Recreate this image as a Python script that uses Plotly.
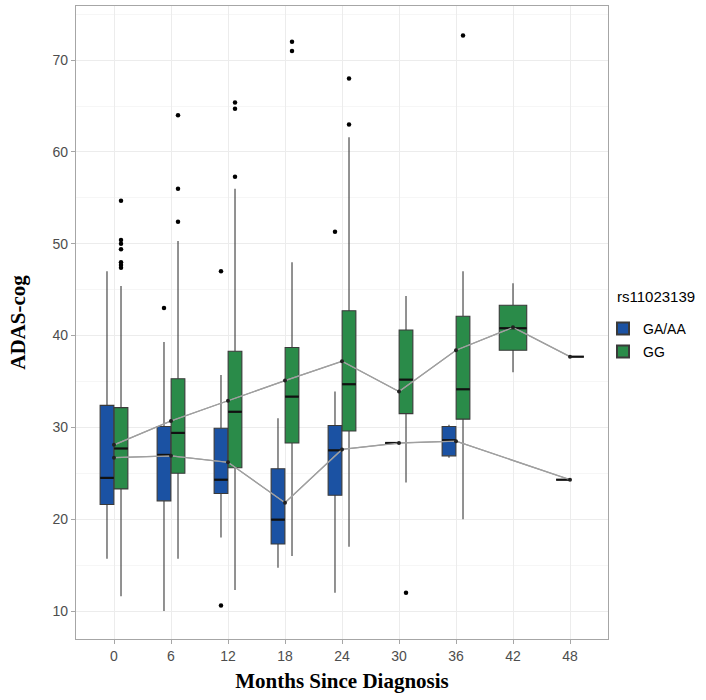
import plotly.graph_objects as go

# ---- data ----
months = [0, 6, 12, 18, 24, 30, 36, 42, 48]
month_labels = ["0", "6", "12", "18", "24", "30", "36", "42", "48"]
groups = ["GA/AA", "GG"]
colors = {"GA/AA": "#1b52a3", "GG": "#2a8b49"}

# box statistics per genotype, None = no data at that month
ga_q1 = [21.6, 22.0, 22.8, 17.3, 22.6, 28.3, 26.9, None, 24.3]
ga_med = [24.5, 27.0, 24.3, 19.95, 27.5, 28.3, 28.6, None, 24.3]
ga_q3 = [32.4, 30.1, 29.9, 25.5, 30.2, 28.3, 30.1, None, 24.3]
ga_lo = [15.7, 10.0, 18.0, 14.7, 12.0, 28.3, 26.7, None, 24.3]
ga_hi = [47.0, 39.3, 35.7, 31.0, 33.9, 28.3, 30.3, None, 24.3]
ga_mean = [26.7, 26.9, 26.2, 21.8, 27.6, 28.3, 28.5, None, 24.3]
ga_out = [[], [43.0], [10.6, 47.0], [], [51.3], [], [], [], []]

gg_q1 = [23.3, 25.0, 25.6, 28.3, 29.6, 31.5, 30.9, 38.4, 37.7]
gg_med = [27.7, 29.4, 31.7, 33.35, 34.7, 35.2, 34.15, 40.8, 37.7]
gg_q3 = [32.15, 35.3, 38.3, 38.7, 42.7, 40.6, 42.1, 43.3, 37.7]
gg_lo = [11.6, 15.7, 12.3, 16.0, 17.0, 24.0, 20.0, 36.0, 37.7]
gg_hi = [45.4, 50.3, 56.0, 48.0, 61.6, 44.3, 47.0, 45.7, 37.7]
gg_mean = [28.1, 30.7, 32.9, 35.1, 37.2, 33.9, 38.4, 40.9, 37.7]
gg_out = [[54.7, 50.4, 50.0, 49.4, 48.0, 47.7, 47.4], [64.0, 56.0, 52.4],
          [65.4, 64.7, 57.3], [72.0, 71.0], [68.0, 63.0], [12.0], [72.7], [], []]

stats = {
    "GA/AA": dict(q1=ga_q1, med=ga_med, q3=ga_q3, lo=ga_lo, hi=ga_hi, mean=ga_mean, out=ga_out),
    "GG": dict(q1=gg_q1, med=gg_med, q3=gg_q3, lo=gg_lo, hi=gg_hi, mean=gg_mean, out=gg_out),
}

DODGE = 2.95  # total dodge width in months (ggplot-like)

fig = go.Figure()

# mean lines (drawn first, under boxes)
for g in groups:
    s = stats[g]
    xs = [m for m, v in zip(months, s["mean"]) if v is not None]
    ys = [v for v in s["mean"] if v is not None]
    fig.add_trace(go.Scatter(x=xs, y=ys, mode="lines",
                             line=dict(color="#9c9c9c", width=1.3),
                             showlegend=False, hoverinfo="skip"))

shown = set()
med_x, med_y = [], []
for i, m in enumerate(months):
    present = [g for g in groups if stats[g]["q1"][i] is not None]
    n = len(present)
    w = DODGE / n
    for j, g in enumerate(present):
        s = stats[g]
        xpos = m - DODGE / 2 + (j + 0.5) * w
        fig.add_trace(go.Box(
            x=[xpos], q1=[s["q1"][i]], median=[s["med"][i]], q3=[s["q3"][i]],
            lowerfence=[s["lo"][i]], upperfence=[s["hi"][i]],
            width=w * 0.98, name=g, legendgroup=g, showlegend=g not in shown,
            fillcolor=colors[g], line=dict(color="#3a3a3a", width=1.1),
            whiskerwidth=0, boxpoints=False))
        shown.add(g)
        med_x += [xpos - w * 0.49, xpos + w * 0.49, None]
        med_y += [s["med"][i], s["med"][i], None]
        if s["out"][i]:
            fig.add_trace(go.Scatter(
                x=[xpos] * len(s["out"][i]), y=s["out"][i], mode="markers",
                marker=dict(color="black", size=4.5), showlegend=False,
                hoverinfo="skip"))

# thicker median bars
fig.add_trace(go.Scatter(x=med_x, y=med_y, mode="lines",
                         line=dict(color="#111111", width=2.2),
                         showlegend=False, hoverinfo="skip"))

# mean lines + points on top
for g in groups:
    s = stats[g]
    xs = [m for m, v in zip(months, s["mean"]) if v is not None]
    ys = [v for v in s["mean"] if v is not None]
    fig.add_trace(go.Scatter(x=xs, y=ys, mode="lines+markers",
                             line=dict(color="#a0a0a0", width=1.2),
                             marker=dict(color="#222222", size=4),
                             showlegend=False, hoverinfo="skip"))

tick_font = dict(family="Liberation Sans, Arial, sans-serif", size=14, color="#4d4d4d")
title_font = dict(family="Liberation Serif, Times New Roman, serif", size=21, color="black")

fig.update_layout(
    width=706, height=700,
    margin=dict(l=76, r=98, t=6, b=61),
    paper_bgcolor="white", plot_bgcolor="white",
    boxmode="overlay",
    legend=dict(x=0.9906, xanchor="left", y=0.5153, yanchor="top",
                bgcolor="rgba(0,0,0,0)",
                font=dict(family="Liberation Sans, Arial", size=14, color="black"),
                tracegroupgap=2, itemsizing="constant"),
    annotations=[dict(text="rs11023139", xref="paper", yref="paper", x=1.013, y=0.5403,
                      xanchor="left", yanchor="middle", showarrow=False,
                      font=dict(family="Liberation Sans, Arial", size=15, color="black"))],
    xaxis=dict(range=[-4, 52], tickmode="array", tickvals=months, ticktext=month_labels,
               showgrid=True, gridcolor="#ececec", gridwidth=1, zeroline=False,
               showline=True, linecolor="#a6a6a6", linewidth=1.2, mirror=True,
               ticks="outside", ticklen=4, tickcolor="#a6a6a6", tickfont=tick_font,
               automargin=False,
               title=dict(text="<b>Months Since Diagnosis</b>", font=title_font, standoff=10)),
    yaxis=dict(range=[6.95, 75.9], tickmode="array", tickvals=[10, 20, 30, 40, 50, 60, 70],
               showgrid=True, gridcolor="#ececec", gridwidth=1, zeroline=False,
               minor=dict(tickvals=[15, 25, 35, 45, 55, 65, 75], showgrid=True, gridcolor="#f6f6f6"),
               showline=True, linecolor="#a6a6a6", linewidth=1.2, mirror=True,
               ticks="outside", ticklen=4, tickcolor="#a6a6a6", tickfont=tick_font,
               automargin=False,
               title=dict(text="<b>ADAS-cog</b>", font=title_font, standoff=21)),
)

fig.write_html("out.html", config={"displayModeBar": False},
               post_script="document.body.style.margin='0px';")
